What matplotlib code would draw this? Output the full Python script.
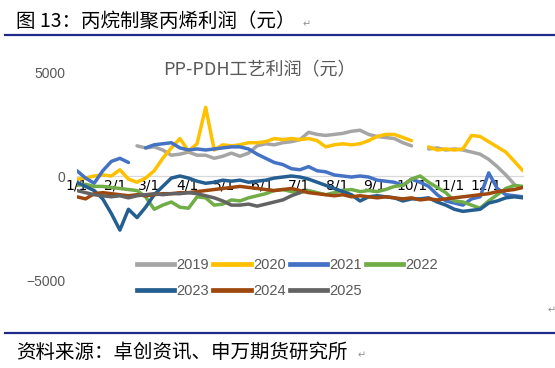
import numpy as np
import matplotlib
matplotlib.use("Agg")
import matplotlib.pyplot as plt
from matplotlib.lines import Line2D

nan = np.nan

# weekly sampling points (day of year)
weeks = np.arange(53)
days = 1 + 7 * weeks

month_days = [1, 32, 60, 91, 121, 152, 182, 213, 244, 274, 305, 335]
month_labels = ["1/1", "2/1", "3/1", "4/1", "5/1", "6/1", "7/1", "8/1", "9/1", "10/1", "11/1", "12/1"]
y_ticks = [-5000, 0, 5000]

y2019 = [nan, nan, nan, nan, nan, nan, nan, 1450, 1350, 1400, 1250, 1000, 1050, 1150, 1000, 1000,
         850, 950, 1100, 950, 1100, 1450, 1550, 1500, 1600, 1650, 1750, 2100, 2000, 1950, 2000,
         2050, 2150, 2200, 2000, 1900, 1850, 1800, 1600, 1450, nan, 1300, 1350, 1250, 1300, 1250,
         1150, 1050, 800, 450, 50, -400, nan]
y2020 = [-150, -100, 0, 50, 0, 300, -150, -300, -100, 250, 850, 1350, 1800, 1200, 1550, 3300,
         1250, 1500, 1450, 1500, 1600, 1600, 1650, 1800, 1750, 1800, 1750, 1800, 1700, 1400, 1500,
         1550, 1500, 1550, 1700, 1900, 2000, 2000, 1850, 1700, nan, 1400, 1250, 1300, 1250, 1300,
         1950, 1900, 1650, 1400, 1150, 700, 250]
y2021 = [250, -100, -350, 250, 700, 850, 650, nan, 1350, 1500, 1550, 1600, 1350, 1250, 1300, 1250,
         1300, 1350, 1400, 1400, 1300, 1050, 850, 650, 550, 350, 300, 450, 250, 200, 50,
         0, -50, 0, -50, -200, -250, -300, -450, -150, -300, -500, -900, -1200, -1300, -1400,
         -1100, -1000, 150, -600, -900, -950, -1000]
y2022 = [-450, -400, -500, -500, -550, -600, -650, -700, -1000, -1600, -1400, -1250, -1500, -1550,
         -1000, -1050, -1400, -1350, -1150, -1200, -1050, -950, -850, -700, -650, -750, -800, -700,
         -800, -900, -800, -700, -650, -750, -700, -750, -650, -500, -450, -150, 0, -300, -550,
         -800, -1200, -1250, -1400, -1550, -1200, -900, -600, -450, -500]
y2023 = [-300, -500, -700, -1100, -1800, -2600, -1600, -2000, -1500, -900, -500, -100, 0, -100,
         -250, -350, -300, -200, -250, -200, -300, -250, -200, -100, -50, 0, -50, -150, -300, -450,
         -600, -750, -900, -1200, -1000, -950, -1000, -1050, -1200, -1100, -1100, -1050, -1250,
         -1400, -1600, -1700, -1650, -1600, -1300, -1200, -1050, -1000, -1050]
y2024 = [-1000, -1100, -850, -800, -850, -900, -950, -900, -950, -900, -850, -850, -800, -800,
         -750, -700, -650, -600, -550, -500, -550, -600, -650, -700, -650, -600, -700, -800, -850,
         -900, -950, -900, -1000, -950, -1000, -1050, -1000, -1050, -1100, -1050, -1150, -1100,
         -1150, -1100, -1050, -1000, -950, -900, -850, -750, -700, -650, -550]
y2025 = [-700, -800, -900, -950, -1000, -950, -1050, -950, -900, -850, -900, -850, -850, -800,
         -850, -950, -1050, -1200, -1400, -1400, -1350, -1450, -1350, -1250, -1150, -950, -800,
         nan, nan, nan, nan, nan, nan, nan, nan, nan, nan, nan, nan, nan, nan, nan, nan, nan, nan,
         nan, nan, nan, nan, nan, nan, nan, nan]

series_names = ["2019", "2020", "2021", "2022", "2023", "2024", "2025"]
series_values = [y2019, y2020, y2021, y2022, y2023, y2024, y2025]
colors = ["#A5A5A5", "#FFC000", "#4472C4", "#70AD47", "#255E91", "#9E480E", "#636363"]

W, H = 555, 368
fig = plt.figure(figsize=(W / 100, H / 100), dpi=100)
fig.patch.set_facecolor("white")

cjk = ["Noto Sans CJK SC", "DejaVu Sans"]
latin = "Liberation Sans"
gray_txt = "#595959"

ax = fig.add_axes([77 / W, 1 - 280 / H, 446 / W, 208 / H])
ax.set_facecolor("none")
for name, vals, c in zip(series_names, series_values, colors):
    ax.plot(days, vals, color=c, lw=2.5, solid_capstyle="round", solid_joinstyle="round",
            zorder=3, label=name)

ax.set_xlim(1, 365)
ax.set_ylim(-5000, 5000)
ax.set_yticks(y_ticks)
ax.set_yticklabels([("\u2212" if v < 0 else "") + str(abs(v)) for v in y_ticks],
                   fontfamily=latin, fontsize=10, color=gray_txt)
ax.set_xticks(month_days)
ax.set_xticklabels(month_labels, fontfamily=latin, fontsize=9, color=gray_txt)
for s in ["left", "right", "top"]:
    ax.spines[s].set_visible(False)
ax.spines["bottom"].set_position(("data", 0))
ax.spines["bottom"].set_color("#D9D9D9")
ax.spines["bottom"].set_linewidth(0.9)
ax.tick_params(axis="both", length=0)
ax.tick_params(axis="y", pad=8.5)
ax.tick_params(axis="x", pad=2)

# chart title
fig.text(259 / W, 1 - 70 / H, "PP-PDH工艺利润（元）", ha="center", va="center",
         fontsize=13, color=gray_txt, family=cjk)

# legend: rows 2019-2022 / 2023-2025 (matplotlib fills column-wise)
order = [0, 4, 1, 5, 2, 6, 3]
handles = [Line2D([], [], color=colors[i], lw=3.4) for i in order]
labels = [series_names[i] for i in order]
fig.legend(handles, labels, loc="upper left", bbox_to_anchor=(137 / W, 1 - 258 / H),
           ncol=4, frameon=False, borderpad=0, borderaxespad=0, handlelength=2.55,
           handletextpad=0.15, columnspacing=0.3, labelspacing=0.85,
           prop={"family": latin, "size": 10.5}, labelcolor=gray_txt)

# document header / footer
fig.text(16 / W, 1 - 21 / H, "图 13：丙烷制聚丙烯利润（元）", ha="left", va="center",
         fontsize=14, color="#000000", family=cjk, weight="medium")
fig.text(303 / W, 1 - 24 / H, "↵", ha="left", va="center", fontsize=7, color="#909090", family=cjk)
fig.add_artist(Line2D([5 / W, 1], [1 - 35 / H, 1 - 35 / H], color="#1F2A8A", lw=1.6))
fig.add_artist(Line2D([5 / W, 1], [1 - 333 / H, 1 - 333 / H], color="#1F2A8A", lw=1.6))
fig.text(16 / W, 1 - 352 / H, "资料来源：卓创资讯、申万期货研究所", ha="left", va="center",
         fontsize=14, color="#000000", family=cjk, weight="medium")
fig.text(358 / W, 1 - 355 / H, "↵", ha="left", va="center", fontsize=7, color="#909090", family=cjk)
fig.text(548 / W, 1 - 310 / H, "↵", ha="left", va="center", fontsize=7, color="#909090", family=cjk)

fig.savefig("out.png", dpi=100, facecolor="white")
